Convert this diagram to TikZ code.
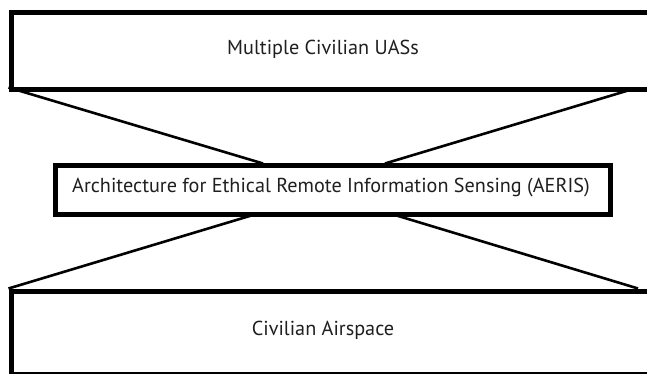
\documentclass[tikz,border=0pt]{standalone}
\usepackage{fontspec}
\setmainfont{PT Sans}
\begin{document}
\begin{tikzpicture}[x=1pt,y=-1pt,
  bigbox/.style={draw=black, line width=5pt, fill=white, rectangle, inner sep=0pt, anchor=north west},
  lbl/.style={text=black!88, font=\fontsize{20.2}{24}\selectfont, inner sep=0pt},
  link/.style={draw=black, line width=2.6pt}]
\useasboundingbox (0,0) rectangle (647,374);
% links (drawn first, boxes on top)
\coordinate (tl) at (8.5,87.5);
\coordinate (tr) at (638,87.5);
\coordinate (bl) at (8.5,288.5);
\coordinate (br) at (638,288.5);
\coordinate (mtl) at (263,163.5);
\coordinate (mtr) at (385,163.5);
\coordinate (mbl) at (263,212);
\coordinate (mbr) at (385,212);
\draw[link] (tl) -- (mtl);
\draw[link] (tr) -- (mtr);
\draw[link] (bl) -- (mbl);
\draw[link] (br) -- (mbr);
% boxes
\node[bigbox, minimum width=700pt, minimum height=77pt] (top) at (8.5,10.5) {};
\node[lbl] (toptext) at (323,49) {Multiple Civilian UASs};
\node[bigbox, minimum width=700pt, minimum height=83.5pt] (bot) at (8.5,288.5) {};
\node[lbl] (bottext) at (323,330) {Civilian Airspace};
\node[bigbox, minimum width=555pt, minimum height=48.5pt] (mid) at (53,163.5) {};
\node[lbl] (midtext) at (331,187.5) {Architecture for Ethical Remote Information Sensing (AERIS)};
\end{tikzpicture}
\end{document}
